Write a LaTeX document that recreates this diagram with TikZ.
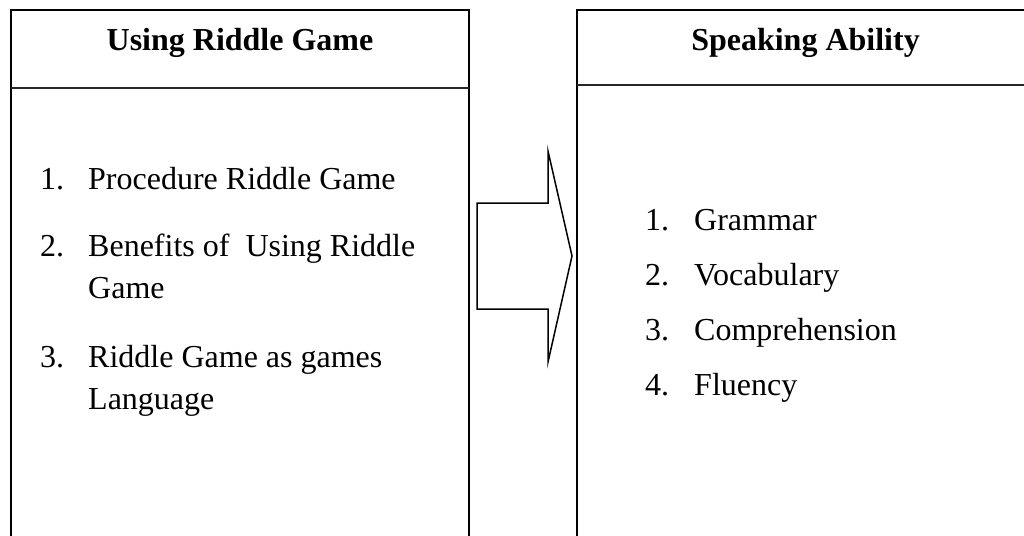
\documentclass[tikz,border=0pt]{standalone}
\usepackage{fontspec}
\setmainfont{Liberation Serif}
\begin{document}
\begin{tikzpicture}[x=1pt,y=-1pt,
  boxline/.style={draw=black,line width=2pt},
  sepline/.style={draw=black!85,line width=1.8pt},
  arrowline/.style={draw=black,line width=1.5pt,line join=miter},
  txt/.style={inner sep=0pt,anchor=base west,font=\fontsize{32}{38}\selectfont},
  head/.style={inner sep=0pt,anchor=base,font=\fontsize{32}{38}\selectfont\bfseries}]
  \clip (0,0) rectangle (1024,535);
  % left panel
  \draw[boxline] (11,10) rectangle (469,580);
  \draw[sepline] (11,88) -- (469,88);
  % right panel
  \draw[boxline] (577,10) rectangle (1034,580);
  \draw[sepline] (577,85) -- (1034,85);
  % block arrow between the panels
  \draw[arrowline] (477,203) -- (548,203) -- (548,151) -- (572,256)
        -- (548,362) -- (548,309) -- (477,309) -- cycle;
  % headings
  \node[head] (lhead) at (240,51) {Using Riddle Game};
  \node[head] (rhead) at (805.5,51) {Speaking Ability};
  % left list
  \node[txt] (ln1) at (40,189) {1.};
  \node[txt] (lt1) at (88,189) {Procedure Riddle Game};
  \node[txt] (ln2) at (40,256) {2.};
  \node[txt] (lt2) at (88,256) {Benefits of~ Using Riddle};
  \node[txt] (lt2b) at (88,298) {Game};
  \node[txt] (ln3) at (40,367) {3.};
  \node[txt] (lt3) at (88,367) {Riddle Game as games};
  \node[txt] (lt3b) at (88,409) {Language};
  % right list
  \node[txt] (rn1) at (645,230) {1.};
  \node[txt] (rt1) at (694,230) {Grammar};
  \node[txt] (rn2) at (645,285) {2.};
  \node[txt] (rt2) at (694,285) {Vocabulary};
  \node[txt] (rn3) at (645,340) {3.};
  \node[txt] (rt3) at (694,340) {Comprehension};
  \node[txt] (rn4) at (645,395) {4.};
  \node[txt] (rt4) at (694,395) {Fluency};
\end{tikzpicture}
\end{document}
